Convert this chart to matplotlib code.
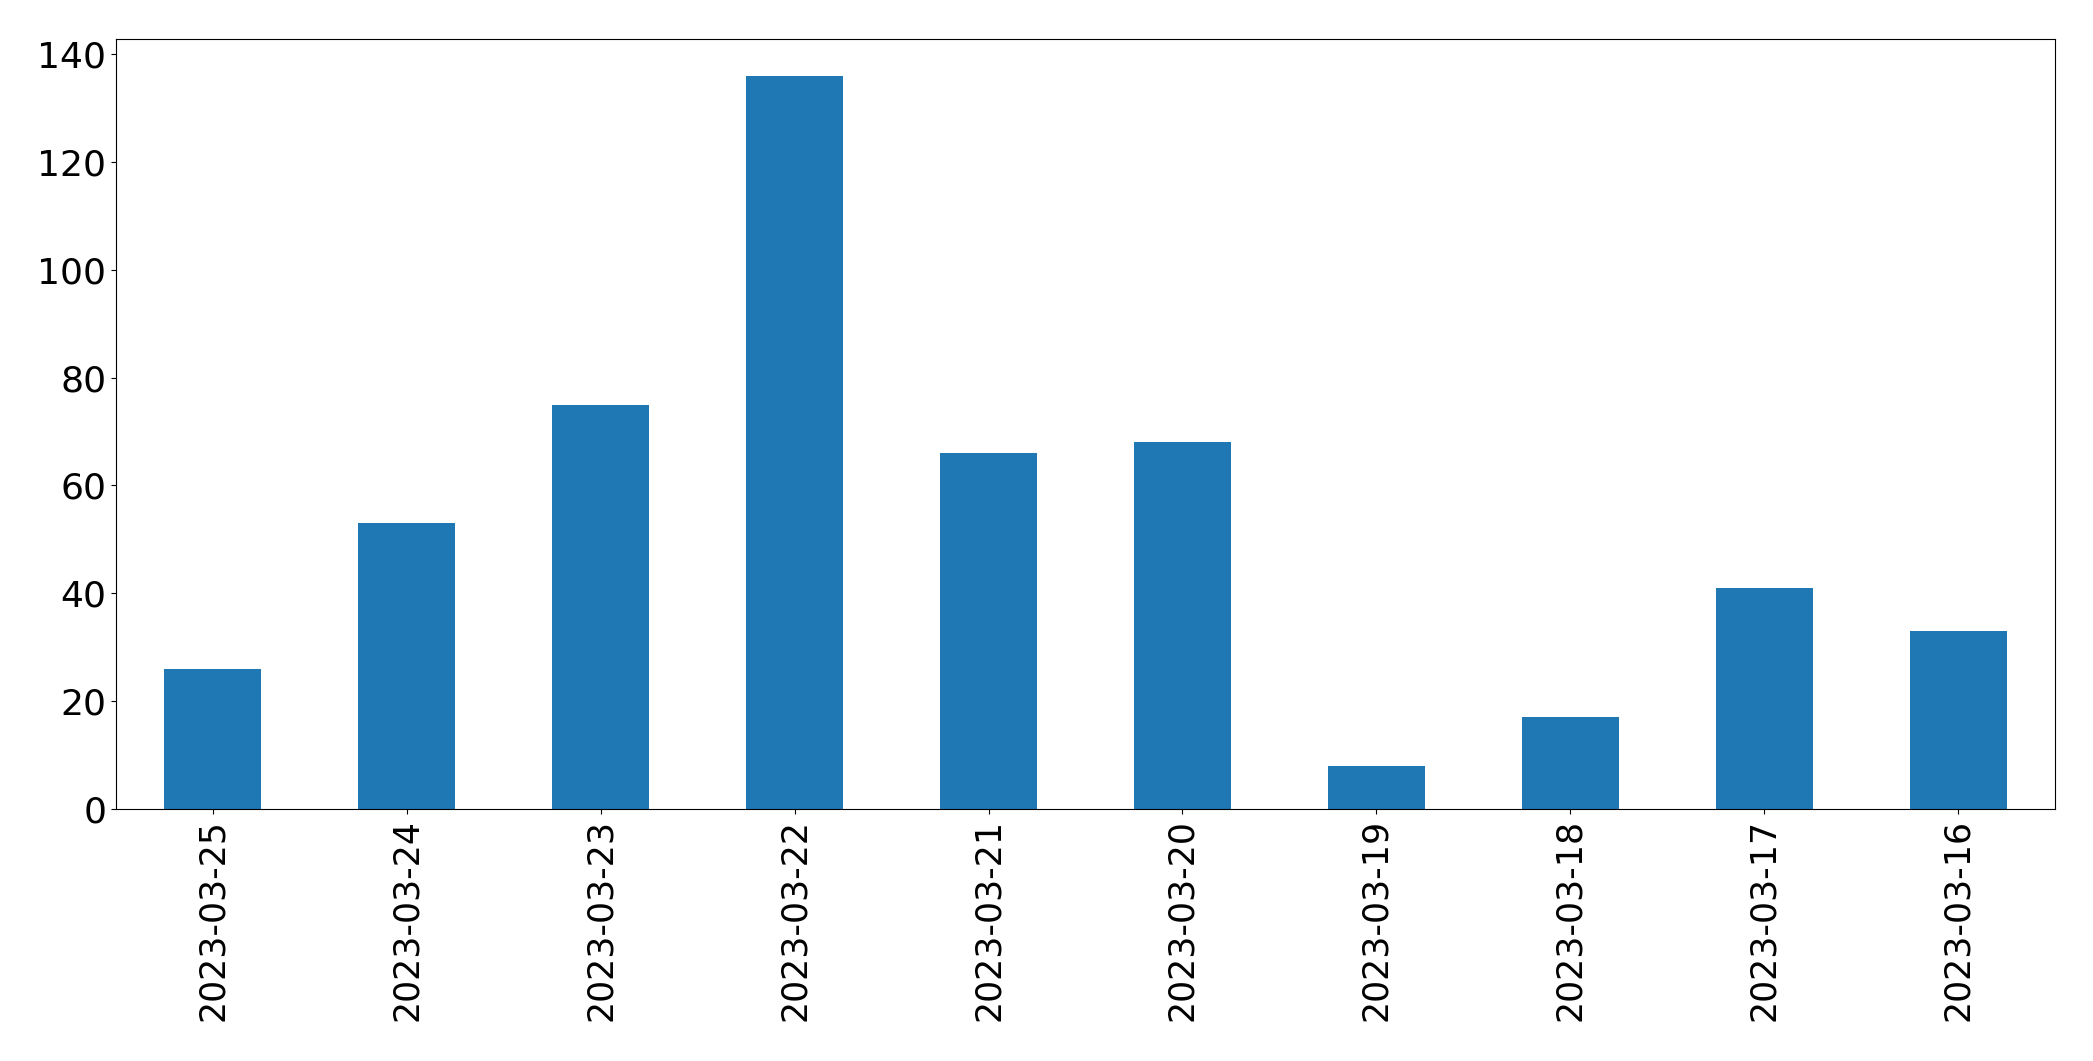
import matplotlib
matplotlib.use("Agg")
import matplotlib.pyplot as plt
import numpy as np

dates = ["2023-03-25", "2023-03-24", "2023-03-23", "2023-03-22", "2023-03-21",
         "2023-03-20", "2023-03-19", "2023-03-18", "2023-03-17", "2023-03-16"]
counts = [26, 53, 75, 136, 66, 68, 8, 17, 41, 33]

fig = plt.figure(figsize=(20.93, 10.61), dpi=100)
ax = fig.add_axes([116/2093, 1 - 809/1061, (2055-116)/2093, (809-39)/1061])
x = np.arange(len(dates))
ax.bar(x, counts, width=0.5, color="#1f77b4")
ax.set_xlim(-0.5, len(dates) - 0.5)
ax.set_ylim(0, max(counts) * 1.05)
ax.set_xticks(x)
ax.set_xticklabels(dates, rotation=90)
ax.tick_params(axis="y", labelsize=26)
ax.tick_params(axis="x", labelsize=25)
fig.savefig("out.png", dpi=100)
